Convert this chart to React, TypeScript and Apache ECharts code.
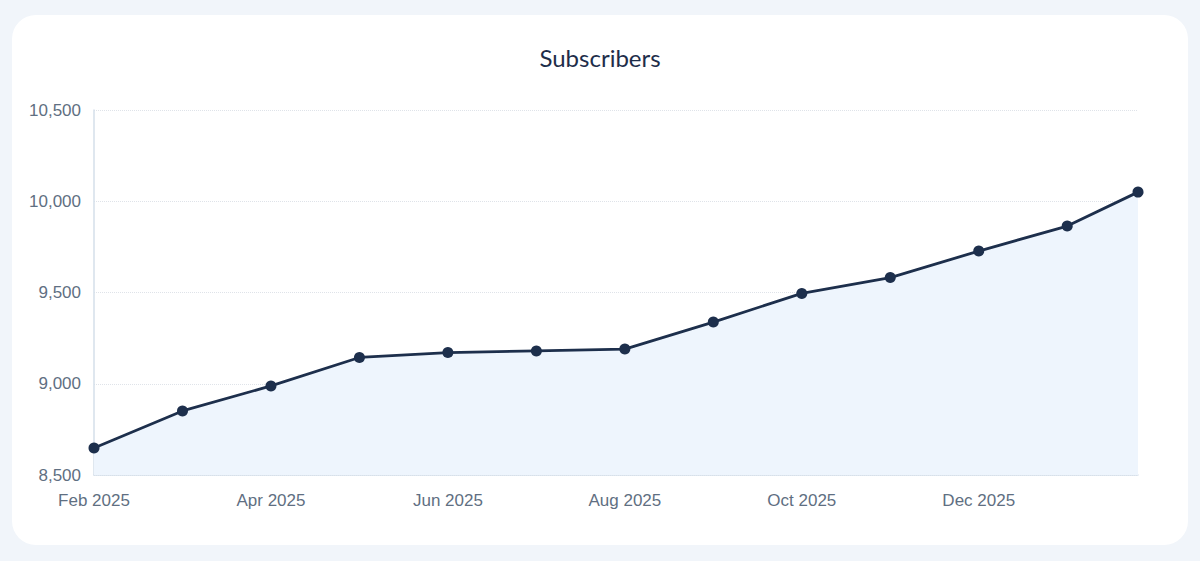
import React, { useEffect, useRef } from "react";
import * as echarts from "echarts";

// Month labels indexed by month offset from Feb 2025
const monthNames = [
  "Feb 2025", "Mar 2025", "Apr 2025", "May 2025", "Jun 2025", "Jul 2025", "Aug 2025",
  "Sep 2025", "Oct 2025", "Nov 2025", "Dec 2025", "Jan 2026", "Feb 2026",
];
// Position of each data point in months since Feb 2025 (last point is late January 2026)
const monthOffsets = [0, 1, 2, 3, 4, 5, 6, 7, 8, 9, 10, 11, 11.8];
const subscribers = [8648, 8851, 8988, 9144, 9171, 9180, 9190, 9338, 9495, 9582, 9727, 9864, 10050];
const yMin = 8500;
const yMax = 10500;
const yStep = 500;
const xStep = 2;

export default function App() {
  const ref = useRef<HTMLDivElement>(null);
  useEffect(() => {
    document.body.style.margin = "0";
    const chart = echarts.init(ref.current!, null, { renderer: "svg" });
    const points = monthOffsets.map((m, i) => [m, subscribers[i]]);
    chart.setOption({
      animation: false,
      title: {
        text: "Subscribers",
        left: "center",
        top: 25,
        textStyle: { fontFamily: "Lato", fontSize: 24, fontWeight: "normal", color: "#1e2d4a" },
      },
      grid: { left: 82, right: 50, top: 95, bottom: 70 },
      xAxis: {
        type: "value",
        min: 0,
        max: monthOffsets[monthOffsets.length - 1],
        interval: xStep,
        axisLine: { show: true, lineStyle: { color: "#d5dfea", width: 1.5 } },
        axisTick: { show: false },
        axisLabel: {
          margin: 17,
          fontFamily: "Liberation Sans",
          fontSize: 17,
          color: "#5f6f82",
          showMaxLabel: false,
          formatter: (v: number) => monthNames[Math.round(v)] ?? "",
        },
        splitLine: { show: false },
      },
      yAxis: {
        type: "value",
        min: yMin,
        max: yMax,
        interval: yStep,
        axisLine: { show: true, lineStyle: { color: "#d5dfea", width: 1.5 } },
        axisTick: { show: false },
        axisLabel: {
          margin: 13,
          fontFamily: "Liberation Sans",
          fontSize: 17,
          color: "#5f6f82",
          formatter: (v: number) => v.toLocaleString("en-US"),
        },
        splitLine: { show: true, lineStyle: { color: "#dfe3e9", type: "dotted", width: 1 } },
      },
      series: [
        {
          type: "line",
          data: points,
          symbol: "circle",
          symbolSize: 11,
          lineStyle: { color: "#1d2f4c", width: 2.8 },
          itemStyle: { color: "#1d2f4c" },
          areaStyle: { color: "#eef5fd", opacity: 1 },
        },
      ],
    });
    return () => chart.dispose();
  }, []);
  return (
    <div style={{ width: 1200, height: 561, background: "#f1f5fa", position: "relative", overflow: "hidden" }}>
      <div
        style={{
          position: "absolute",
          left: 12,
          top: 15,
          width: 1176,
          height: 530,
          background: "#ffffff",
          borderRadius: 24,
          overflow: "hidden",
        }}
      >
        <div ref={ref} style={{ width: 1176, height: 530 }} />
      </div>
    </div>
  );
}
